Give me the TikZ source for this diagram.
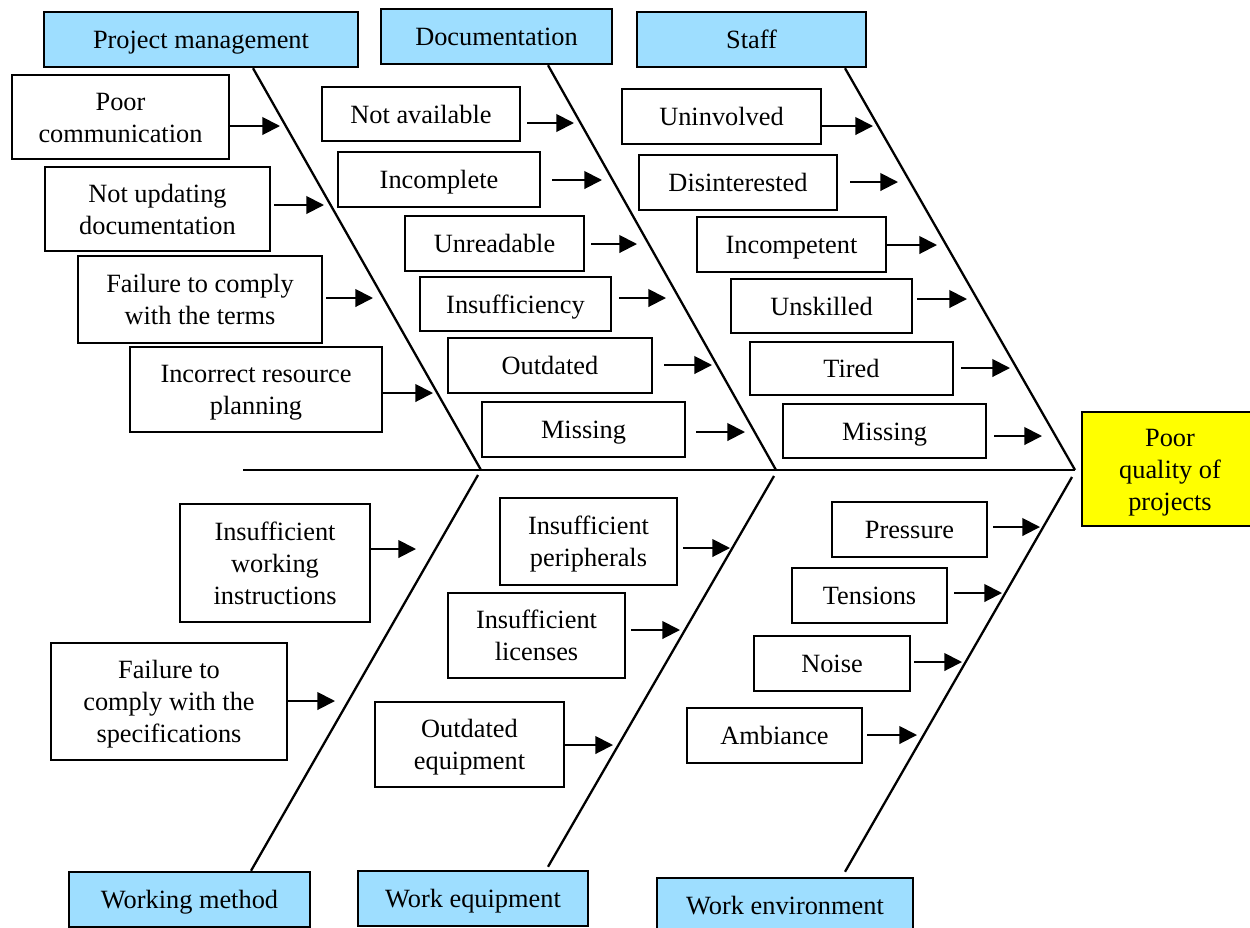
\documentclass[tikz,border=0pt]{standalone}
\usepackage{fontspec}
\setmainfont{Liberation Serif}
\usetikzlibrary{arrows.meta}
\definecolor{hdrblue}{RGB}{158,222,255}
\definecolor{effyellow}{RGB}{255,255,0}
\tikzset{
  base/.style={draw=black, line width=1.4pt, inner sep=0pt,
    font=\fontsize{15}{18.2}\selectfont},
  cause/.style={base, fill=white},
  header/.style={base, fill=hdrblue},
  effect/.style={base, fill=effyellow},
  bone/.style={line width=1.3pt},
  arr/.style={line width=1.1pt, -{Triangle[length=10pt,width=10pt]}},
}
% style, name, x1, y1, x2, y2, text
\newcommand\bx[7]{%
  \node[#1, minimum width={(#5-#3)*0.02cm}, minimum height={(#6-#4)*0.02cm}]
    (#2) at ({(#3+#5)/2},{(#4+#6)/2})
    {\raisebox{0pt}[\dimexpr\height+1.6pt\relax][\dimexpr\depth-1.6pt\relax]{\begin{tabular}{@{}c@{}}#7\end{tabular}}};}
% name, gap, xtip, y
\newcommand\ar[4]{%
  \coordinate (#1-tip) at (#3,#4);
  \path (#1.east |- #1-tip) ++(#2,0) coordinate (#1-s);
  \draw[arr] (#1-s) -- (#1-tip);}
\begin{document}
\begin{tikzpicture}[x=0.02cm,y=-0.02cm]
\clip (0,0) rectangle (1250,927);
\fill[white] (0,0) rectangle (1250,927);

% spine
\coordinate (tail) at (243,470);
\coordinate (head) at (1075,470);
\coordinate (j1) at (481,470);
\coordinate (j2) at (776,470);
\coordinate (k1) at (478,475);
\coordinate (k2) at (774,476);
\coordinate (k3) at (1072,477);
\draw[bone] (tail) -- (head);

% headers
\bx{header}{pm}{44}{12}{358}{67}{Project management}
\bx{header}{doc}{381}{9}{612}{64}{Documentation}
\bx{header}{staff}{637}{12}{866}{67}{Staff}
\bx{header}{wm}{69}{872}{310}{927}{Working method}
\bx{header}{weq}{358}{871}{588}{926}{Work equipment}
\bx{header}{wen}{657}{878}{913}{933}{Work environment}

% effect
\bx{effect}{eff}{1082}{412}{1258}{526}{Poor\\quality of\\projects}

% bones
\path (pm.south) ++(52,0) coordinate (pm-b);
\path (doc.south) ++(51.5,0) coordinate (doc-b);
\path (staff.south) ++(93.5,0) coordinate (staff-b);
\path (wm.north) ++(61.5,0) coordinate (wm-b);
\path (weq.north) ++(75,-3) coordinate (weq-b);
\path (wen.north) ++(60,-5) coordinate (wen-b);
\draw[bone] (pm-b) -- (j1);
\draw[bone] (doc-b) -- (j2);
\draw[bone] (staff-b) -- (head);
\draw[bone] (wm-b) -- (k1);
\draw[bone] (weq-b) -- (k2);
\draw[bone] (wen-b) -- (k3);

% Project management causes
\bx{cause}{pc}{12}{75}{229}{159}{Poor\\communication}
\bx{cause}{nu}{45}{167}{270}{251}{Not updating\\documentation}
\bx{cause}{fc}{78}{256}{322}{343}{Failure to comply\\with the terms}
\bx{cause}{ir}{130}{347}{382}{432}{Incorrect resource\\planning}
\ar{pc}{0}{280}{126}
\ar{nu}{3}{324}{205}
\ar{fc}{3}{373}{298}
\ar{ir}{0}{433}{393}

% Documentation causes
\bx{cause}{na}{322}{87}{520}{141}{Not available}
\bx{cause}{ic}{338}{152}{540}{207}{Incomplete}
\bx{cause}{ur}{405}{216}{584}{271}{Unreadable}
\bx{cause}{is}{420}{277}{611}{331}{Insufficiency}
\bx{cause}{od}{448}{338}{652}{393}{Outdated}
\bx{cause}{mi}{482}{402}{685}{457}{Missing}
\ar{na}{6}{574}{123}
\ar{ic}{11}{602}{180}
\ar{ur}{6}{637}{244}
\ar{is}{7}{666}{298}
\ar{od}{11}{712}{365}
\ar{mi}{10}{745}{432}

% Staff causes
\bx{cause}{un}{622}{89}{821}{144}{Uninvolved}
\bx{cause}{di}{639}{155}{837}{210}{Disinterested}
\bx{cause}{ico}{697}{217}{886}{272}{Incompetent}
\bx{cause}{us}{731}{279}{912}{333}{Unskilled}
\bx{cause}{ti}{750}{342}{953}{395}{Tired}
\bx{cause}{ms}{783}{404}{986}{458}{Missing}
\ar{un}{0}{873}{126}
\ar{di}{12}{898}{182}
\ar{ico}{0}{937}{245}
\ar{us}{4}{967}{299}
\ar{ti}{7}{1010}{368}
\ar{ms}{7}{1042}{436}

% Working method causes
\bx{cause}{iw}{180}{504}{370}{622}{Insufficient\\working\\instructions}
\bx{cause}{fs}{51}{643}{287}{760}{Failure to\\comply with the\\specifications}
\ar{iw}{0}{416}{549}
\ar{fs}{0}{335}{701}

% Work equipment causes
\bx{cause}{ip}{500}{498}{677}{585}{Insufficient\\peripherals}
\bx{cause}{il}{448}{593}{625}{678}{Insufficient\\licenses}
\bx{cause}{oe}{375}{702}{564}{787}{Outdated\\equipment}
\ar{ip}{5}{730}{548}
\ar{il}{5}{680}{630}
\ar{oe}{0}{613}{745}

% Work environment causes
\bx{cause}{pr}{832}{502}{987}{557}{Pressure}
\bx{cause}{te}{792}{568}{947}{623}{Tensions}
\bx{cause}{no}{754}{636}{910}{691}{Noise}
\bx{cause}{am}{687}{708}{862}{763}{Ambiance}
\ar{pr}{5}{1040}{527}
\ar{te}{6}{1002}{593}
\ar{no}{3}{962}{662}
\ar{am}{4}{917}{735}
\end{tikzpicture}
\end{document}
